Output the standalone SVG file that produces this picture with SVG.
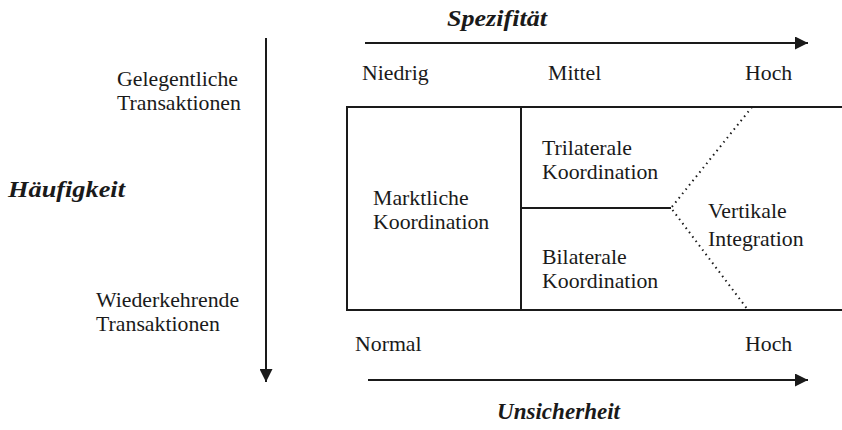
<svg xmlns="http://www.w3.org/2000/svg" width="842" height="430" viewBox="0 0 842 430">
<style>
text{font-family:"Liberation Serif","Times New Roman",serif;fill:#1a1a1a}
.t{font-size:21.8px}
.h{font-size:24px;font-weight:bold;font-style:italic}
.ln{stroke:#1a1a1a;stroke-width:2;fill:none}
.dot{stroke:#1a1a1a;stroke-width:2;stroke-dasharray:1.5 4;fill:none}
</style>
<defs>
<marker id="ah" viewBox="0 0 10 10" refX="10" refY="5" markerWidth="15" markerHeight="13" markerUnits="userSpaceOnUse" orient="auto">
<path d="M0,0 L10,5 L0,10 z" fill="#1a1a1a"/>
</marker>
</defs>
<rect width="842" height="430" fill="#fff"/>
<g id="connectors">
<line class="ln" x1="365" y1="43" x2="808" y2="43" marker-end="url(#ah)"/>
<line class="ln" x1="368" y1="380" x2="808" y2="380" marker-end="url(#ah)"/>
<line class="ln" x1="266" y1="38" x2="266" y2="382" marker-end="url(#ah)"/>
</g>
<g id="axis-labels">
<text class="h" x="447" y="26" textLength="100" lengthAdjust="spacingAndGlyphs">Spezifität</text>
<text class="t" x="362" y="80">Niedrig</text>
<text class="t" x="548" y="80">Mittel</text>
<text class="t" x="745" y="80">Hoch</text>
<text class="t" x="117" y="86">Gelegentliche</text>
<text class="t" x="117" y="110">Transaktionen</text>
<text class="h" x="8" y="197" textLength="117" lengthAdjust="spacingAndGlyphs">Häufigkeit</text>
<text class="t" x="96" y="307">Wiederkehrende</text>
<text class="t" x="96" y="331">Transaktionen</text>
<text class="t" x="355" y="351">Normal</text>
<text class="t" x="745" y="351">Hoch</text>
<text class="h" x="497" y="419" textLength="123" lengthAdjust="spacingAndGlyphs">Unsicherheit</text>
</g>
<g id="matrix">
<path class="ln" d="M842,107 H347 V310 H842"/>
<line class="ln" x1="521" y1="107" x2="521" y2="310"/>
<line class="ln" x1="521" y1="208" x2="671" y2="208"/>
<path class="dot" d="M752,107 L671,208 L748,310"/>
</g>
<g id="marktliche">
<text class="t" x="373" y="205">Marktliche</text>
<text class="t" x="373" y="229">Koordination</text>
</g>
<g id="trilaterale">
<text class="t" x="542" y="155">Trilaterale</text>
<text class="t" x="542" y="179">Koordination</text>
</g>
<g id="bilaterale">
<text class="t" x="542" y="264">Bilaterale</text>
<text class="t" x="542" y="288">Koordination</text>
</g>
<g id="vertikale">
<text class="t" x="708" y="218">Vertikale</text>
<text class="t" x="708" y="246">Integration</text>
</g>
</svg>
